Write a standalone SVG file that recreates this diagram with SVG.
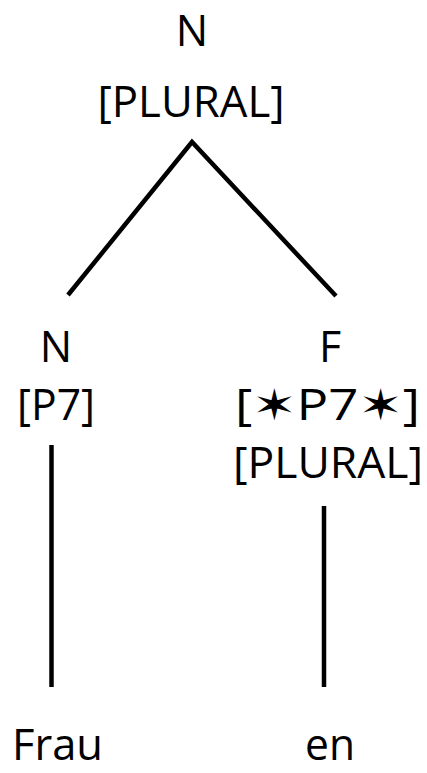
<svg xmlns="http://www.w3.org/2000/svg" width="427" height="773" viewBox="0 0 427 773">
<style>
text{font-family:"Open Sans","DejaVu Sans",sans-serif;font-size:43px;fill:#000;text-anchor:middle}
.e{stroke:#000;stroke-width:4.5;fill:none;stroke-linecap:butt}
</style>
<rect width="427" height="773" fill="#fff"/>
<g id="connectors">
<polyline class="e" points="68,295 192,142 336,296"/>
<line class="e" x1="51.5" y1="445" x2="51.5" y2="687"/>
<line class="e" x1="324" y1="506" x2="324" y2="687"/>
</g>
<g id="root">
<text x="192" y="46">N</text>
<text x="191" y="117" textLength="187" lengthAdjust="spacingAndGlyphs">[PLURAL]</text>
</g>
<g id="left">
<text x="56" y="362">N</text>
<text x="56" y="420" textLength="78" lengthAdjust="spacingAndGlyphs">[P7]</text>
</g>
<g id="right">
<text x="330" y="362">F</text>
<text x="327.5" y="420" textLength="185" lengthAdjust="spacingAndGlyphs">[✶P7✶]</text>
<text x="328" y="478" textLength="190" lengthAdjust="spacingAndGlyphs">[PLURAL]</text>
</g>
<g id="leaf-left">
<text x="57.5" y="760" textLength="91" lengthAdjust="spacingAndGlyphs">Frau</text>
</g>
<g id="leaf-right">
<text x="330" y="760" textLength="50" lengthAdjust="spacingAndGlyphs">en</text>
</g>
</svg>
